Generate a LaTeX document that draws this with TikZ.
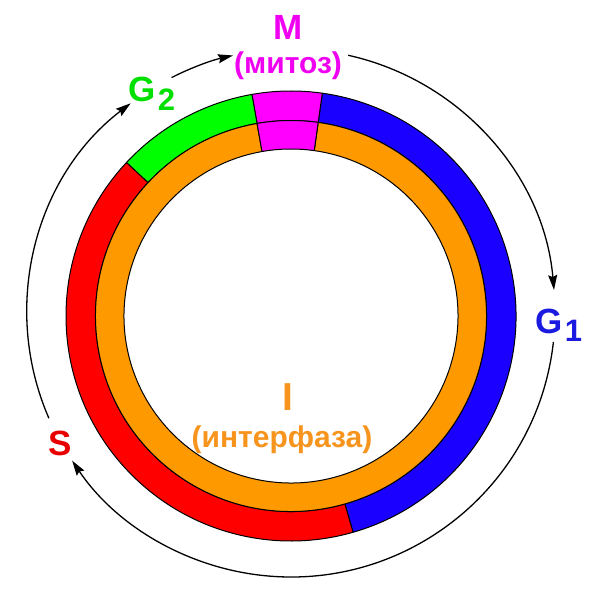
\documentclass[tikz,border=0pt]{standalone}
\usepackage{fontspec}
\setmainfont{Liberation Sans}
\usetikzlibrary{arrows.meta}
\definecolor{cmag}{HTML}{FF00FF}
\definecolor{cgreen}{HTML}{00FF00}
\definecolor{cblue}{HTML}{1A00FF}
\definecolor{cred}{HTML}{FF0000}
\definecolor{corange}{HTML}{FF9900}
\definecolor{tmag}{HTML}{F000F0}
\definecolor{tgreen}{HTML}{00E000}
\definecolor{tblue}{HTML}{1A1AE0}
\definecolor{tred}{HTML}{E80000}
\definecolor{torange}{HTML}{F7941D}
\newcommand\ringseg[5]{% color, a1, a2, rin, rout
  \filldraw[fill=#1,draw=black,line width=1pt,line join=round]
    (#2:#5) arc[start angle=#2,end angle=#3,radius=#5]
    -- (#3:#4) arc[start angle=#3,end angle=#2,radius=#4] -- cycle;}
\newcommand\subnum[1]{\hspace{2pt}\raisebox{-8.5pt}{\fontsize{31}{31}\selectfont #1}}
\tikzset{
  cyc/.style={draw=black,line width=1.3pt,-{Stealth[length=15pt,width=9pt,inset=2pt]}},
  lab/.style={font=\bfseries\fontsize{35}{35}\selectfont,anchor=base,inner sep=0pt},
  sublab/.style={font=\bfseries\fontsize{30}{30}\selectfont,anchor=base,inner sep=0pt}
}
\begin{document}
\begin{tikzpicture}[x=1pt,y=1pt]
\useasboundingbox (-291pt,-284pt) rectangle (301pt,316pt);
% outer ring
\ringseg{cblue}{-74}{82}{195.5pt}{225pt}
\ringseg{cmag}{82}{100}{195.5pt}{225pt}
\ringseg{cgreen}{100}{137}{195.5pt}{225pt}
\ringseg{cred}{137}{286}{195.5pt}{225pt}
% inner ring
\ringseg{corange}{100}{442}{167pt}{195.5pt}
\ringseg{cmag}{82}{100}{167pt}{195.5pt}
% cycle arrows
\begin{scope}[shift={(0pt,3pt)}]
\draw[cyc] (77.5:264pt) arc[start angle=77.5,end angle=5,radius=264pt];
\draw[cyc] (-6.3:264pt) arc[start angle=-6.3,end angle=-146,radius=264pt];
\draw[cyc] (203.5:264pt) arc[start angle=203.5,end angle=127.4,radius=264pt];
\draw[cyc] (116.9:264pt) arc[start angle=116.9,end angle=102.7,radius=264pt];
\end{scope}
% labels
\node[lab,text=tmag] (m) at (-3pt,276pt) {M};
\node[sublab,text=tmag] (mit) at (-3pt,242pt) {(митоз)};
\node[lab,text=tgreen] (g2) at (-139pt,214pt) {G\subnum{2}};
\node[lab,text=tblue] (g1) at (268pt,-17pt) {G\subnum{1}};
\node[lab,text=tred] (s) at (-231pt,-139pt) {S};
\node[lab,text=torange,font=\bfseries\fontsize{39}{39}\selectfont] (i) at (-3pt,-94pt) {I};
\node[sublab,text=torange] (int) at (-9pt,-131pt) {(интерфаза)};
\end{tikzpicture}
\end{document}
